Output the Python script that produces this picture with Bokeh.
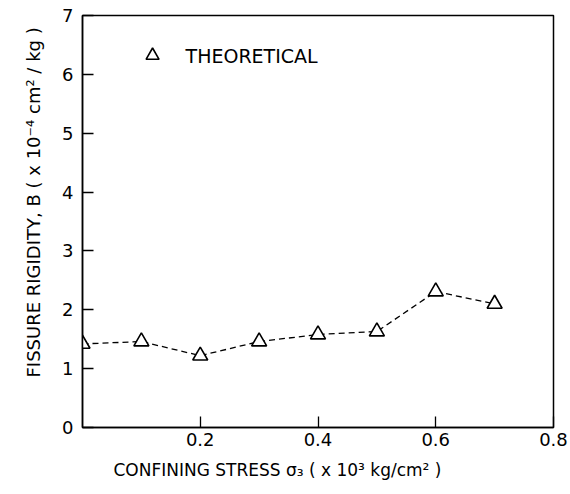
from bokeh.plotting import figure
from bokeh.embed import file_html
from bokeh.resources import INLINE
from bokeh.models import FixedTicker, Range1d, Title
from bokeh.core.properties import value

# Data
stress = [0.0, 0.1, 0.2, 0.3, 0.4, 0.5, 0.6, 0.7]
rigidity = [1.42, 1.46, 1.22, 1.46, 1.58, 1.63, 2.31, 2.10]
x_ticks = [0.2, 0.4, 0.6, 0.8]
x_tick_labels = {0.2: "0.2", 0.4: "0.4", 0.6: "0.6", 0.8: "0.8"}
y_ticks = [0, 1, 2, 3, 4, 5, 6, 7]
y_tick_labels = {0: "0", 1: "1", 2: "2", 3: "3", 4: "4", 5: "5", 6: "6", 7: "7"}
legend_label = "THEORETICAL"
x_title = "CONFINING STRESS σ₃ ( x 10³ kg/cm² )"
y_title = "FISSURE RIGIDITY, B ( x 10⁻⁴ cm² / kg )"

FONT = "DejaVu Sans"

p = figure(width=570, height=494, output_backend="svg", toolbar_location=None,
           x_range=Range1d(0, 0.8), y_range=Range1d(0, 7),
           min_border_left=82, min_border_right=17, min_border_top=15, min_border_bottom=67)
p.background_fill_color = "white"
p.border_fill_color = "white"
p.xgrid.visible = False
p.ygrid.visible = False
p.outline_line_color = "black"
p.outline_line_width = 1.5

for ax in (p.xaxis[0], p.yaxis[0]):
    ax.axis_line_color = "black"
    ax.axis_line_width = 1.5
    ax.major_tick_in = 11
    ax.major_tick_out = 0
    ax.minor_tick_line_color = None
    ax.major_tick_line_color = "black"
    ax.major_tick_line_width = 1.3
    ax.major_label_text_font = FONT
    ax.major_label_text_font_size = "18px"
    ax.major_label_text_color = "black"

p.xaxis.ticker = FixedTicker(ticks=x_ticks)
p.xaxis.major_label_overrides = x_tick_labels
p.yaxis.ticker = FixedTicker(ticks=y_ticks)
p.yaxis.major_label_overrides = y_tick_labels
p.xaxis.major_label_standoff = 5
p.yaxis.major_label_standoff = 9

p.line(stress, rigidity, line_color="black", line_width=1.3, line_dash="6 4")
p.scatter(stress, rigidity, marker="triangle", size=15, fill_color="white",
          line_color="black", line_width=1.6)

# legend
p.scatter([0.119], [6.32], marker="triangle", size=13, fill_color="white",
          line_color="black", line_width=1.6)
p.text([0.175], [6.32], text=[legend_label], text_font=value(FONT),
       text_font_size="19px", text_baseline="middle", text_align="left", text_color="black")

# axis titles
xt = Title(text=x_title, align="left", offset=31, text_font=FONT, text_font_size="17px",
           text_font_style="normal", text_color="black", standoff=18)
yt = Title(text=y_title, align="left", offset=50, text_font=FONT, text_font_size="18px",
           text_font_style="normal", text_color="black", standoff=32)
p.add_layout(xt, "below")
p.add_layout(yt, "left")

open("out.html", "w").write(file_html(p, INLINE))
